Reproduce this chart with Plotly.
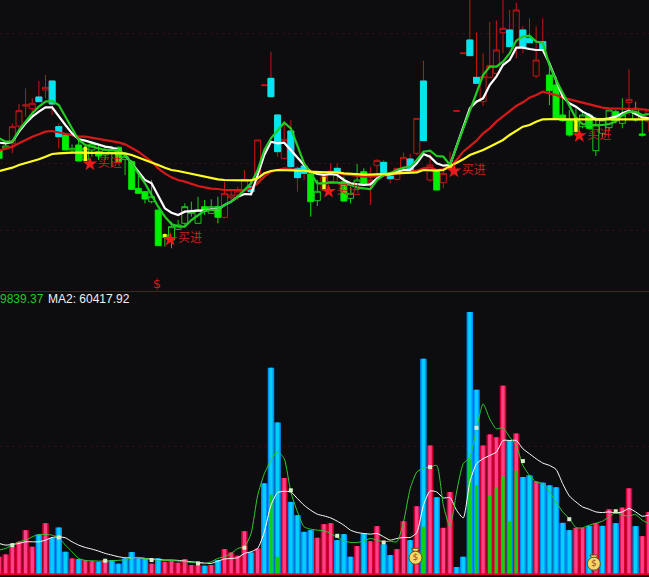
import plotly.graph_objects as go

BG = "#0D0D0F"
index = list(range(99))

# candle kinds: R hollow red, C filled cyan, G filled lime, H hollow green
kind = ["G","H","R","R","R","R","C","R","C","C","G","H","G","H","H","G","H","H","G","H",
        "G","G","G","H","G","H","H","H","H","H","H","G","H","G","R","R","R","R","C","R",
        "R","C","C","R","C","C","C","G","H","R","R","C","G","H","H","G","R","R","C","C",
        "R","R","C","R","C","R","G","R","R","R","R","C","C","R","R","R","R","C","R","C",
        "C","R","C","G","G","G","G","H","H","G","H","H","H","G","H","R","H","G","R"]
body_top = [420,432,490,538,555,560,579,608,627,490,465,425,435,425,438,415,422,420,428,400,
            385,305,295,280,240,165,190,195,250,235,240,250,250,250,290,285,297,332,310,450,
            615,635,525,452,477,365,372,348,296,340,348,365,325,290,330,355,330,389,383,342,
            365,398,393,515,627,375,355,350,375,538,711,750,638,640,673,720,785,780,840,780,
            755,690,745,645,615,525,510,510,525,525,495,510,540,535,525,572,545,468,540]
body_bot = [395,425,440,492,552,544,565,600,558,460,420,420,387,390,420,402,405,410,385,392,
            302,290,273,265,133,158,150,182,200,230,200,240,230,218,218,277,285,298,295,330,
            613,580,415,395,370,337,350,265,268,300,325,352,267,275,315,317,322,374,352,334,
            332,365,360,410,448,330,300,322,365,536,709,703,620,565,638,650,772,730,725,730,
            742,642,720,598,515,508,465,475,490,485,418,470,487,508,500,562,510,464,505]
high = [420,445,500,558,605,575,627,645,627,500,470,437,460,435,445,435,430,430,430,410,
        390,360,295,330,240,170,205,210,260,265,280,270,272,280,325,300,310,360,325,450,
        615,715,525,505,510,370,375,350,330,340,380,380,340,310,378,365,370,392,390,355,
        365,412,408,515,688,410,360,360,415,538,711,880,773,710,805,808,880,840,862,792,
        815,790,815,680,640,590,540,545,540,530,520,515,540,540,575,662,565,510,540]
low = [395,420,410,485,520,525,565,575,525,425,420,415,387,387,400,390,390,370,380,345,
       300,290,260,260,133,130,125,180,190,220,200,225,230,200,215,270,270,295,290,325,
       613,580,400,392,360,295,330,220,252,300,320,325,265,260,305,315,255,345,345,320,
       328,355,355,405,448,325,300,305,360,536,709,703,620,552,635,645,710,730,695,710,
       742,635,720,555,510,505,460,470,485,480,402,460,480,500,485,525,505,460,475]

ma_green = [455,445,445,480,505,530,550,565,567,555,520,485,450,435,430,425,420,420,420,405,
            380,350,320,285,250,220,198,190,190,210,225,238,240,242,255,265,280,300,320,360,
            420,455,480,502,485,430,380,350,320,320,323,322,320,315,308,305,303,330,345,350,
            360,367,370,390,415,418,402,400,375,430,485,540,595,645,670,670,685,710,748,760,
            763,745,742,675,630,590,555,515,498,495,495,495,498,505,525,535,535,525,528]
ma_white = [442,440,445,475,500,520,535,548,548,520,495,470,452,448,442,435,430,427,420,405,
            380,355,330,320,280,245,232,225,235,237,238,238,242,242,255,265,280,288,287,345,
            405,445,440,442,420,395,375,355,348,345,348,345,330,320,317,315,317,335,345,347,
            355,360,360,380,408,400,380,373,375,430,485,545,565,575,615,640,675,690,727,727,
            723,720,720,680,630,580,560,550,535,525,512,512,515,520,530,538,528,518,515]
ma_red = [418,423,430,440,450,460,467,475,477,473,468,465,460,460,457,453,450,447,443,437,
          425,415,400,385,365,350,338,330,325,318,312,308,304,303,300,300,300,300,305,320,
          340,355,360,365,363,360,358,355,353,353,355,352,347,345,342,340,340,342,345,345,
          350,353,355,358,365,368,360,362,370,390,415,432,448,470,485,505,520,535,552,563,
          577,585,595,590,585,577,572,567,562,555,552,547,545,545,545,543,543,542,540]
ma_yellow = [357,362,367,375,380,387,392,400,408,410,412,412,412,412,412,412,412,412,412,410,
             405,398,390,383,375,367,360,357,353,348,345,340,335,332,330,329,329,329,329,335,
             350,357,360,360,360,359,358,355,353,353,353,353,350,348,347,346,346,347,347,347,
             350,350,350,353,360,358,358,360,370,380,392,405,412,420,430,440,450,465,477,490,
             495,505,512,513,513,512,512,513,513,512,512,513,513,512,512,513,513,513,512]

yellow_at = [13,25,49,68,87]
yellow_base = [387,157,300,365,475]
yellow_top = [430,168,340,378,518]

buy_at = [13.7,25.8,49.7,68.6,87.5]
buy_price = [378,152,296,357,463]

vol_kind = ["P","P","P","P","P","P","B","P","B","B","B","P","B","P","P","B","P","B","B","B",
            "B","B","B","P","B","P","P","P","P","P","P","B","P","B","P","P","P","P","B","P",
            "B","B","B","P","B","B","B","B","P","P","P","B","B","B","P","B","P","P","B","B",
            "P","P","B","P","B","P","B","P","P","B","B","B","B","P","P","P","P","B","P","B",
            "B","P","B","B","B","B","B","P","P","B","P","B","P","B","P","P","B","P","P"]
volume = [50,57,80,95,130,80,117,151,107,138,65,45,43,40,37,35,40,40,29,45,
          64,45,45,29,45,35,37,32,43,25,25,23,25,40,73,63,53,127,63,75,
          271,619,454,287,215,175,125,130,107,148,151,100,118,50,82,120,97,142,87,55,
          73,157,100,202,646,385,229,137,245,19,50,787,553,385,418,410,565,400,421,290,
          295,277,273,265,259,152,130,137,137,143,151,143,193,151,198,256,142,112,185]
vol_ma1 = [70,75,85,95,100,110,117,117,115,107,85,65,45,39,38,37,37,38,39,41,
           47,48,45,42,40,39,39,37,35,33,31,29,35,45,50,60,75,80,120,235,
           300,340,367,345,245,185,140,133,130,128,120,108,98,93,93,97,105,100,95,97,
           95,155,255,305,317,320,325,205,140,245,330,350,435,510,465,435,438,410,385,325,
           295,275,270,245,215,185,165,138,137,145,151,157,170,183,175,173,177,160,150]
vol_ma2 = [90,85,87,90,95,95,95,100,108,110,107,95,85,78,73,67,60,55,50,47,
           47,47,45,43,42,40,40,39,37,35,33,31,30,37,43,45,47,60,65,75,
           125,205,243,247,245,225,205,190,178,173,167,157,145,130,123,120,118,120,110,100,
           105,108,108,123,205,248,245,227,228,190,167,275,330,345,355,365,400,400,400,375,
           360,345,332,325,313,270,233,215,200,193,185,183,185,182,185,195,185,172,175]
lime_at = [41,42,64,71,72,74,75,76,77,78]
lime_height = [237,50,140,345,265,233,258,292,157,310]
week_at = [2,9,16,23,30,37,44,51,58,65,72,79,86,93]
week_value = [85,108,38,40,30,77,250,113,93,320,438,338,163,187]
bag_at = [62.8,89.7]
bag_value = [47,29]
bag_knot_value = [70,50]
grid_top = [770,380,180]
grid_bottom = [382]

legend_ma1 = "9839.37"
legend_ma2 = "MA2: 60417.92"
buy_label = "买进"
dollar_at = 23.8
dollar_price = 15

fig = go.Figure()


def add_candles(idx, hi, lo, edge, fill):
    fig.add_trace(go.Candlestick(
        x=idx, open=[body_bot[i] for i in idx], close=[body_top[i] for i in idx],
        high=hi, low=lo,
        increasing=dict(line=dict(color=edge, width=1), fillcolor=fill),
        decreasing=dict(line=dict(color=edge, width=1), fillcolor=fill),
        whiskerwidth=0, showlegend=False, hoverinfo="skip",
        xaxis="x", yaxis="y",
    ))


styles = {
    "R": ("#C81414", BG),
    "G": ("#00E800", "#00F000"),
    "H": ("#18C818", BG),
}
for k, (edge, fill) in styles.items():
    idx = [i for i in index if kind[i] == k]
    add_candles(idx, [high[i] for i in idx], [low[i] for i in idx], edge, fill)

# cyan candles: red wick underneath, plain cyan body on top
idx = [i for i in index if kind[i] == "C"]
add_candles(idx, [high[i] for i in idx], [low[i] for i in idx], "#C81414", "#C81414")
add_candles(idx, [body_top[i] for i in idx], [body_bot[i] for i in idx], "#00E6F0", "#00E6F0")

xs, ys = [], []
for a, b, t in zip(yellow_at, yellow_base, yellow_top):
    xs += [a, a, None]; ys += [b, t, None]
fig.add_trace(go.Scatter(x=xs, y=ys, mode="lines", line=dict(color="#FFFF20", width=3.5),
                         showlegend=False, hoverinfo="skip", xaxis="x", yaxis="y"))

for vals, col in [(ma_red, "#D81818"), (ma_white, "#FFFFFF"), (ma_green, "#22CC22"), (ma_yellow, "#FFFF20")]:
    fig.add_trace(go.Scatter(x=index, y=vals, mode="lines", line=dict(color=col, width=2.2),
                             showlegend=False, hoverinfo="skip", xaxis="x", yaxis="y"))

fig.add_trace(go.Scatter(
    x=buy_at, y=buy_price, mode="markers+text",
    marker=dict(symbol="star", size=11, color="#F01818"),
    text=[buy_label] * len(buy_at), textposition="middle right",
    textfont=dict(family="Noto Sans CJK SC", size=12, color="#C82020"),
    showlegend=False, hoverinfo="skip", xaxis="x", yaxis="y"))
fig.add_trace(go.Scatter(
    x=[dollar_at], y=[dollar_price], mode="text", text=["$"],
    textfont=dict(family="DejaVu Sans", size=13, color="#D81818"),
    cliponaxis=False, showlegend=False, hoverinfo="skip", xaxis="x", yaxis="y"))

# volume pane
for k, outer, inner in [("B", "#0090F8", "#00D0FF"), ("P", "#D00030", "#FF4088")]:
    idx = [i for i in index if vol_kind[i] == k]
    v = [volume[i] for i in idx]
    fig.add_trace(go.Bar(x=idx, y=v, width=0.98, marker=dict(color=outer, line=dict(width=0)),
                         showlegend=False, hoverinfo="skip", xaxis="x2", yaxis="y2"))
    fig.add_trace(go.Bar(x=idx, y=v, width=0.5, marker=dict(color=inner, line=dict(width=0)),
                         showlegend=False, hoverinfo="skip", xaxis="x2", yaxis="y2"))
fig.add_trace(go.Bar(x=lime_at, y=lime_height, width=0.5, marker=dict(color="#10D010", line=dict(width=0)),
                     showlegend=False, hoverinfo="skip", xaxis="x2", yaxis="y2"))
for vals, col in [(vol_ma2, "#FFFFFF"), (vol_ma1, "#30C830")]:
    fig.add_trace(go.Scatter(x=index, y=vals, mode="lines",
                             line=dict(color=col, width=1, shape="spline", smoothing=0.6),
                             showlegend=False, hoverinfo="skip", xaxis="x2", yaxis="y2"))
fig.add_trace(go.Scatter(x=week_at, y=week_value, mode="markers",
                         marker=dict(symbol="square", size=4, color="#D8F0C8"),
                         showlegend=False, hoverinfo="skip", xaxis="x2", yaxis="y2"))
fig.add_trace(go.Scatter(x=bag_at, y=bag_knot_value, mode="markers",
                         marker=dict(symbol="triangle-down", size=7, color="#F6D868",
                                     line=dict(color="#6A5010", width=1)),
                         showlegend=False, hoverinfo="skip", xaxis="x2", yaxis="y2"))
fig.add_trace(go.Scatter(x=bag_at, y=bag_value, mode="markers+text", text=["$", "$"],
                         textposition="middle center",
                         textfont=dict(family="DejaVu Sans", size=9, color="#A04020"),
                         marker=dict(symbol="circle", size=13, color="#F6D868",
                                     line=dict(color="#6A5010", width=1)),
                         showlegend=False, hoverinfo="skip", xaxis="x2", yaxis="y2"))

x_range = [0.136, 98.02]
axis_common = dict(range=x_range, showgrid=False, zeroline=False, showticklabels=False, ticks="")
grid_style = dict(showgrid=True, gridcolor="#2E0E14", griddash="dot", gridwidth=1,
                  showticklabels=False, ticks="", showline=False)

fig.update_layout(
    width=649, height=577, margin=dict(l=0, r=0, t=0, b=0),
    paper_bgcolor=BG, plot_bgcolor=BG, boxgap=0.1, boxgroupgap=0, boxmode="overlay",
    barmode="overlay", showlegend=False,
    xaxis=dict(anchor="y", domain=[0, 1], rangeslider=dict(visible=False), **axis_common,
               showline=True, linecolor="#701020", linewidth=1, side="bottom"),
    yaxis=dict(anchor="x", domain=[1 - 291 / 577, 1], range=[-3, 870], tickvals=grid_top,
               zeroline=False, **grid_style),
    xaxis2=dict(anchor="y2", domain=[0, 1], **axis_common),
    yaxis2=dict(anchor="x2", domain=[0, 285 / 577], range=[-11, 847], tickvals=grid_bottom,
                zeroline=True, zerolinecolor="#E00020", zerolinewidth=3, **grid_style),
    annotations=[
        dict(xref="paper", yref="paper", x=-2 / 649, y=1 - 299 / 577, xanchor="left", yanchor="middle",
             showarrow=False, text=legend_ma1, font=dict(family="Liberation Sans", size=12, color="#20C820")),
        dict(xref="paper", yref="paper", x=46 / 649, y=1 - 299 / 577, xanchor="left", yanchor="middle",
             showarrow=False, text=legend_ma2, font=dict(family="Liberation Sans", size=12, color="#F0F0F0")),
    ],
)
fig.write_html("out.html", post_script="document.body.style.margin='0';document.body.style.overflow='hidden';",
               config=dict(displayModeBar=False))
